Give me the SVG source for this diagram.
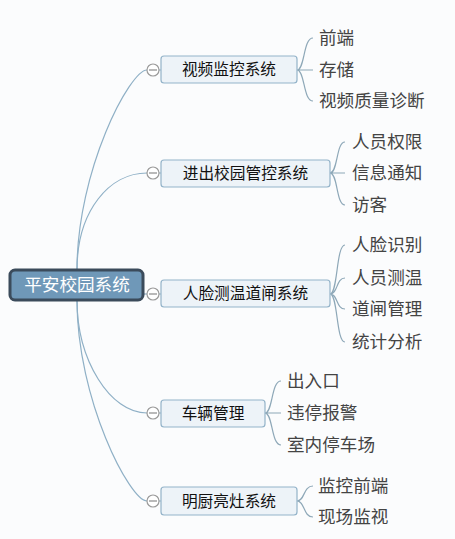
<svg xmlns="http://www.w3.org/2000/svg" width="455" height="539" viewBox="0 0 455 539">
<style>
.bg{fill:#fbfcfd}
.c{fill:none;stroke:#8fb0c6;stroke-width:1.2}
.lc{fill:none;stroke:#8ea8b8;stroke-width:1.2}
.box{fill:#edf3f8;stroke:#93b3c9;stroke-width:1.2}
.bt{font-family:"Noto Sans CJK SC","Noto Sans",sans-serif;font-size:15.7px;fill:#111;text-anchor:middle}
.lt{font-family:"Noto Sans CJK SC","Noto Sans",sans-serif;font-size:17.6px;fill:#444}
.tog{fill:#fff;stroke:#9a9a9a;stroke-width:1.2}
.tl{stroke:#8a8a8a;stroke-width:1.2}
</style>
<rect class="bg" x="0" y="0" width="455" height="539"/>
<g id="connectors">
<path class="c" d="M77,270 C77,170 130,70 147,70"/>
<path class="c" d="M77,270 C77,210 110,173 147,173"/>
<path class="c" d="M143,294 L147,294"/>
<path class="c" d="M77,300 C77,360 110,413 147,413"/>
<path class="c" d="M77,300 C77,400 130,501 147,501"/>
<path class="c" d="M159,70 H161 M159,173 H161 M159,294 H161 M159,413 H161 M159,501 H161"/>
<path class="lc" d="M297,70 C305,70 303,38 313,38 M297,70 H313 M297,70 C305,70 303,101 313,101"/>
<path class="lc" d="M330,173 C338,173 336,142 345,142 M330,173 H345 M330,173 C338,173 336,205 345,205"/>
<path class="lc" d="M330,294 C338,294 336,245 345,245 M330,294 C338,294 336,278 345,278 M330,294 C338,294 336,309 345,309 M330,294 C338,294 336,342 345,342"/>
<path class="lc" d="M265,413 C273,413 271,381 281,381 M265,413 H281 M265,413 C273,413 271,445 281,445"/>
<path class="lc" d="M297,501 C305,501 303,486 313,486 M297,501 C305,501 303,517 313,517"/>
</g>
<g id="root">
<rect x="10" y="270" width="133" height="30" rx="5" fill="#6f98b8" stroke="#3b4b5b" stroke-width="3"/>
<text x="77" y="291" font-family="Noto Sans CJK SC, Noto Sans, sans-serif" font-size="17.6" fill="#fff" text-anchor="middle">平安校园系统</text>
</g>
<g id="n1">
<circle class="tog" cx="153" cy="70" r="6"/><line class="tl" x1="149" y1="70" x2="157" y2="70"/>
<rect class="box" x="161" y="56" width="136" height="27" rx="3"/>
<text class="bt" x="229" y="75">视频监控系统</text>
</g>
<g id="n2">
<circle class="tog" cx="153" cy="173" r="6"/><line class="tl" x1="149" y1="173" x2="157" y2="173"/>
<rect class="box" x="161" y="160" width="169" height="27" rx="3"/>
<text class="bt" x="245.5" y="179">进出校园管控系统</text>
</g>
<g id="n3">
<circle class="tog" cx="153" cy="294" r="6"/><line class="tl" x1="149" y1="294" x2="157" y2="294"/>
<rect class="box" x="161" y="280" width="169" height="27" rx="3"/>
<text class="bt" x="245.5" y="299">人脸测温道闸系统</text>
</g>
<g id="n4">
<circle class="tog" cx="153" cy="413" r="6"/><line class="tl" x1="149" y1="413" x2="157" y2="413"/>
<rect class="box" x="161" y="400" width="104" height="27" rx="3"/>
<text class="bt" x="213" y="419">车辆管理</text>
</g>
<g id="n5">
<circle class="tog" cx="153" cy="501" r="6"/><line class="tl" x1="149" y1="501" x2="157" y2="501"/>
<rect class="box" x="161" y="487" width="136" height="28" rx="3"/>
<text class="bt" x="229" y="507">明厨亮灶系统</text>
</g>
<g id="leaves">
<text class="lt" x="319" y="44">前端</text>
<text class="lt" x="319" y="76">存储</text>
<text class="lt" x="319" y="107">视频质量诊断</text>
<text class="lt" x="352" y="148">人员权限</text>
<text class="lt" x="352" y="179">信息通知</text>
<text class="lt" x="352" y="211">访客</text>
<text class="lt" x="352" y="251">人脸识别</text>
<text class="lt" x="352" y="284">人员测温</text>
<text class="lt" x="352" y="315">道闸管理</text>
<text class="lt" x="352" y="348">统计分析</text>
<text class="lt" x="287" y="387">出入口</text>
<text class="lt" x="287" y="419">违停报警</text>
<text class="lt" x="287" y="451">室内停车场</text>
<text class="lt" x="318" y="492">监控前端</text>
<text class="lt" x="318" y="523">现场监视</text>
</g>
</svg>
